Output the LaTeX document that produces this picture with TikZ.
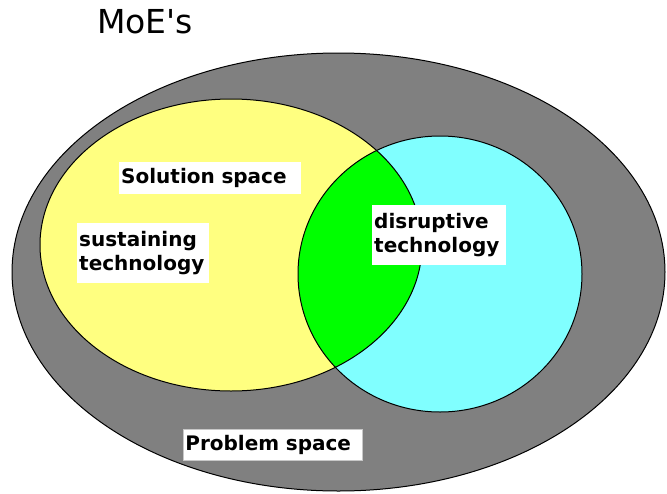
\documentclass[tikz,border=0pt]{standalone}
\usepackage{fontspec}
\setmainfont{DejaVu Sans}
% plain family without TeX ligatures, so the apostrophe stays straight
\newfontfamily\plainsans{DejaVu Sans}
\definecolor{spacegray}{HTML}{808080}
\definecolor{solyellow}{HTML}{FFFF80}
\definecolor{disrcyan}{HTML}{80FFFF}
\definecolor{overlapgreen}{HTML}{00FF00}
\begin{document}
\begin{tikzpicture}[x=1pt,y=-1pt,
  region/.style={draw=black, line width=1pt},
  tag/.style={fill=white, anchor=north west, inner xsep=2pt, inner ysep=0pt,
    align=left, font=\fontsize{20}{24}\selectfont\bfseries},
  title/.style={anchor=base west, inner sep=0pt, font=\plainsans\fontsize{33}{36}\selectfont}]
\useasboundingbox (0,0) rectangle (667,493);

% outer problem space, solution space and disruptive region
\def\problemshape{(338.5,272) ellipse [x radius=326.5pt, y radius=219pt]}
\def\solutionshape{(231,245) ellipse [x radius=191pt, y radius=146pt]}
\def\disruptshape{(440,274) ellipse [x radius=142pt, y radius=138pt]}

\fill[spacegray] \problemshape;
\fill[solyellow] \solutionshape;
\fill[disrcyan] \disruptshape;
\begin{scope}
  \clip \solutionshape;
  \fill[overlapgreen] \disruptshape;
\end{scope}
\draw[region] \problemshape;
\draw[region] \solutionshape;
\draw[region] \disruptshape;

% labels
\node[title] (moe) at (97,33) {MoE's};
\node[tag, text width=178pt, minimum height=32pt] (solution) at (119,162) {Solution space};
\node[tag, text width=128pt, minimum height=60pt] (sustaining) at (77,223) {sustaining\\technology};
\node[tag, text width=130pt, minimum height=60pt] (disruptive) at (372,205) {disruptive\\technology};
\node[tag, text width=175pt, minimum height=31pt,
  draw={rgb,255:red,200;green,200;blue,200}, line width=0.8pt] (problem) at (183,429) {Problem space};
\end{tikzpicture}
\end{document}
